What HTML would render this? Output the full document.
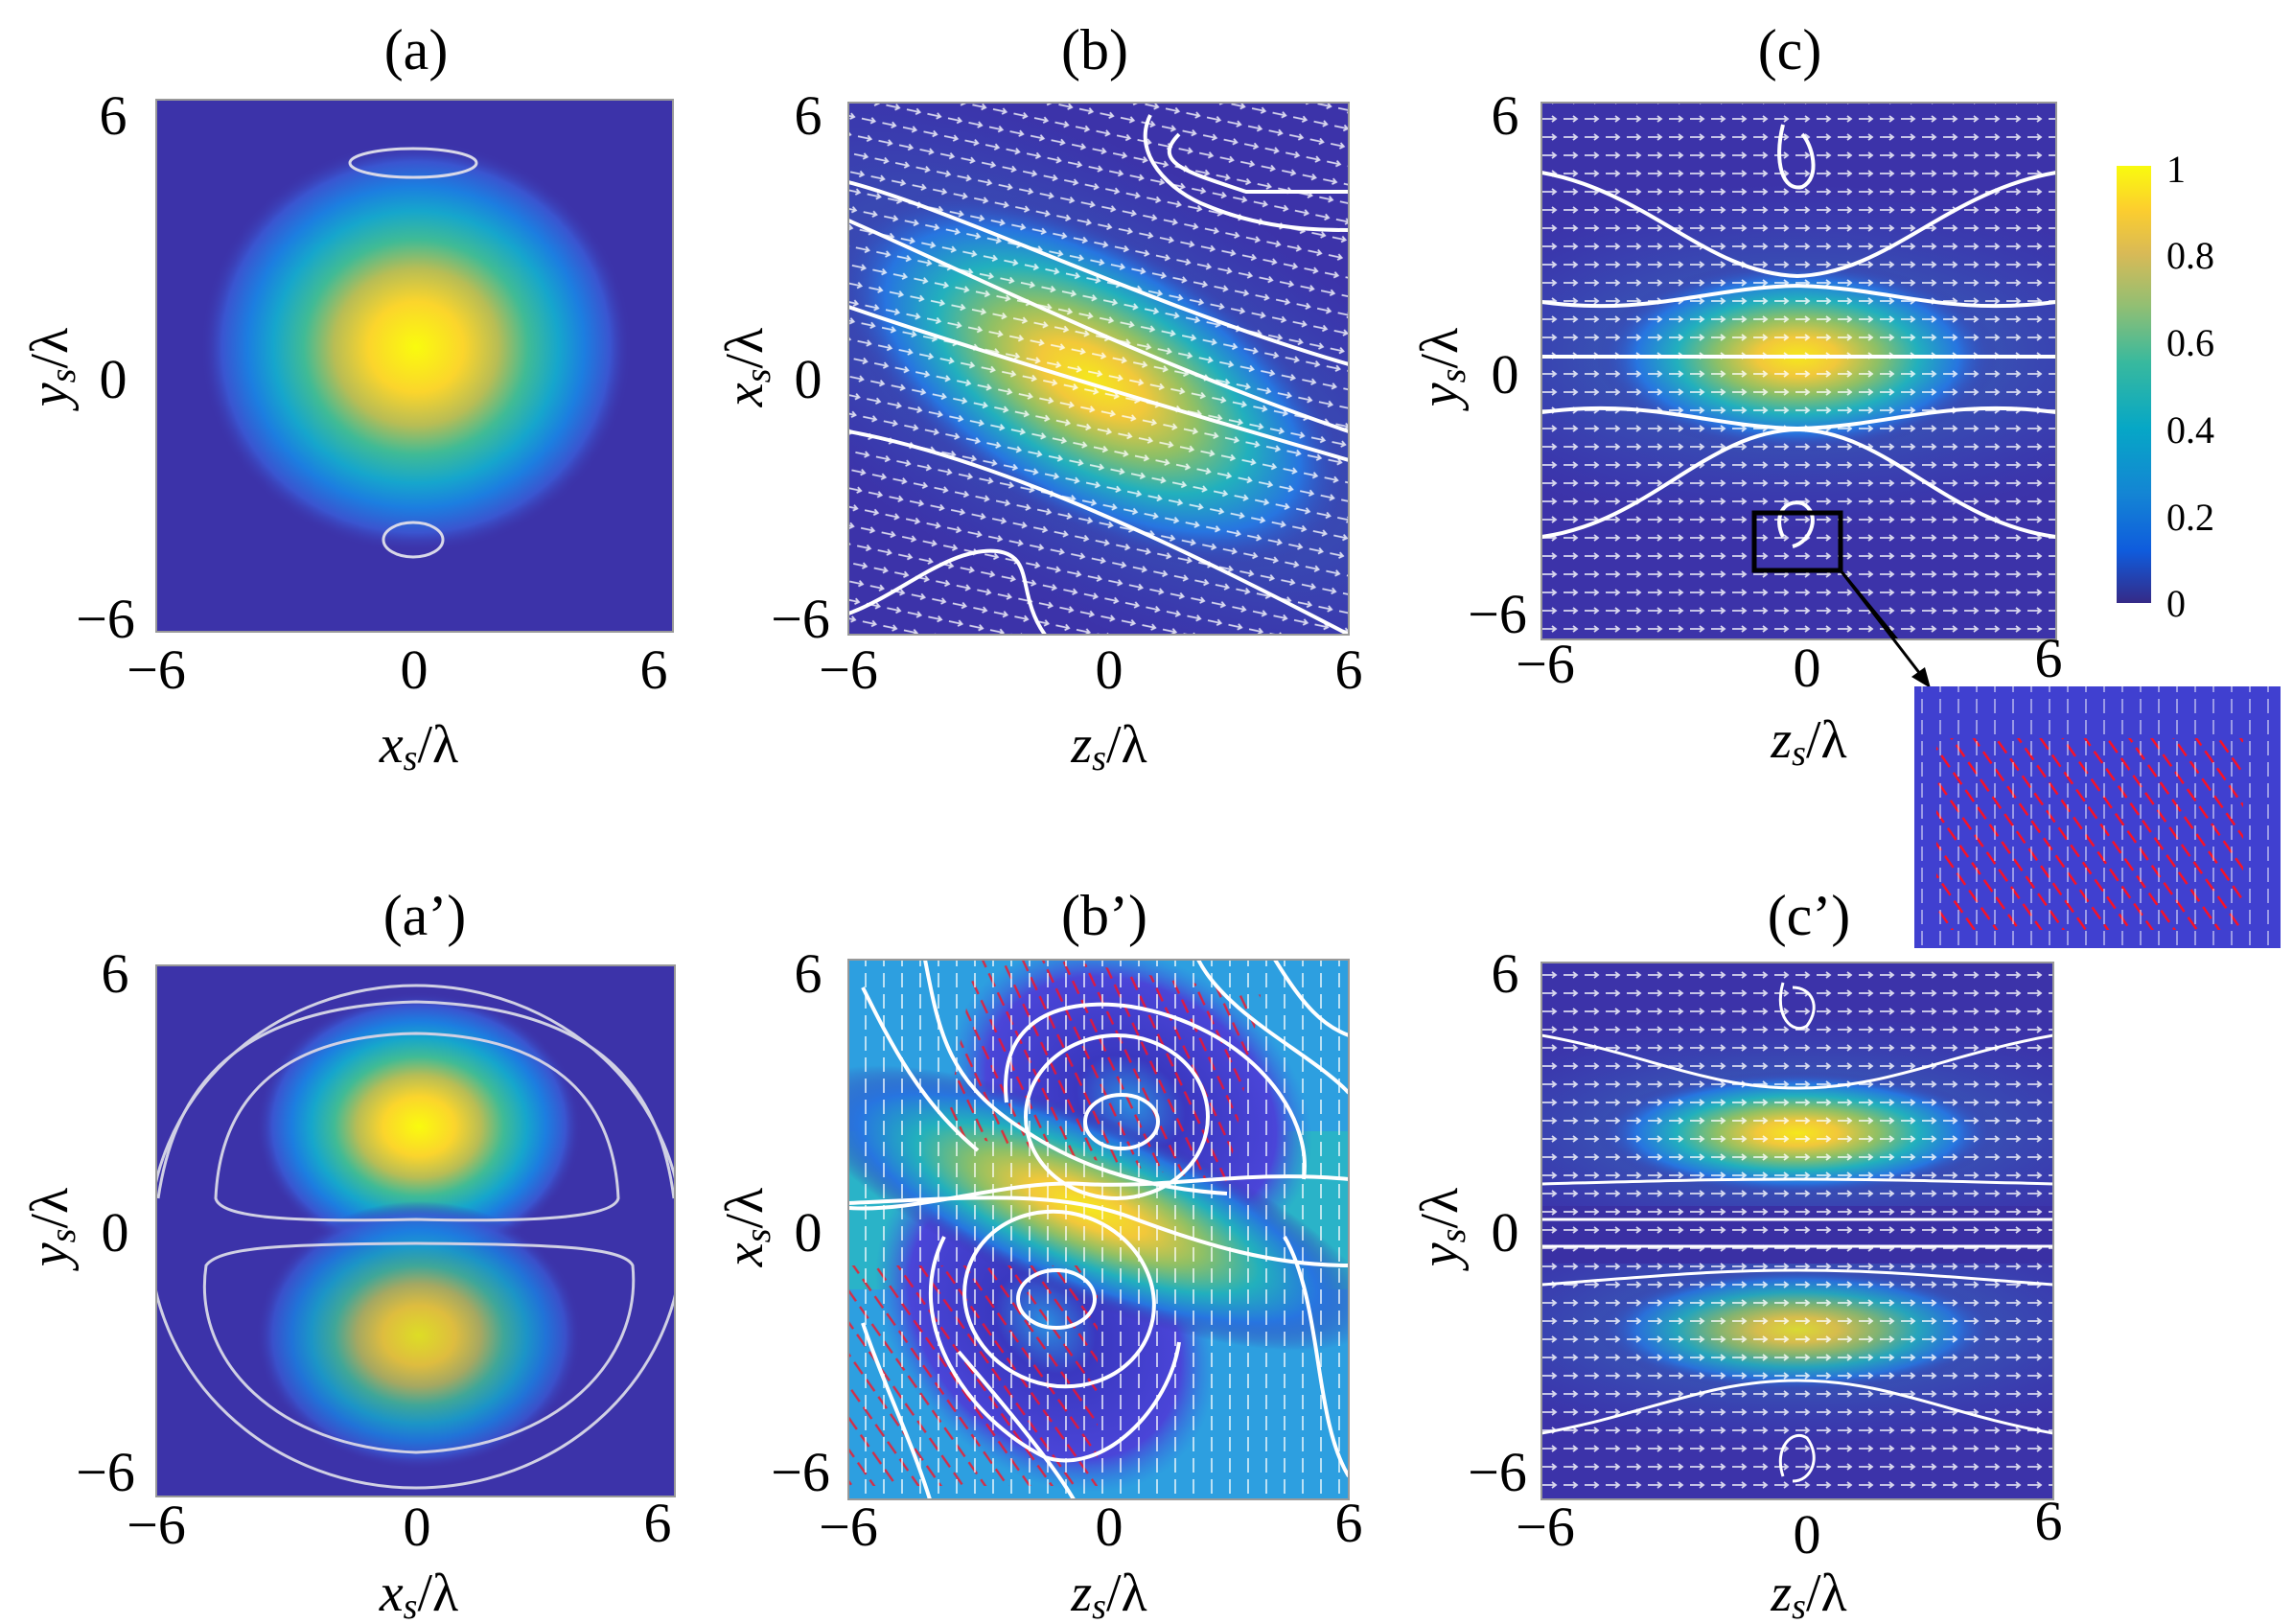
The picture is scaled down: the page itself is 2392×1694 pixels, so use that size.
<!DOCTYPE html>
<html><head><meta charset="utf-8"><style>
html,body{margin:0;padding:0;background:#fff;}
svg{display:block;}
text{font-family:"Liberation Serif",serif;fill:#000;}
</style></head><body>
<svg width="2392" height="1694" viewBox="0 0 2392 1694" xmlns="http://www.w3.org/2000/svg">
<defs>
<radialGradient id="par" cx="0.5" cy="0.5" r="0.5">
<stop offset="0" stop-color="#f9fb0e"/><stop offset="0.22" stop-color="#fbd52c"/>
<stop offset="0.38" stop-color="#b8bd55"/><stop offset="0.52" stop-color="#40bb95"/>
<stop offset="0.66" stop-color="#16a6cc"/><stop offset="0.78" stop-color="#1c7ee0"/>
<stop offset="0.9" stop-color="#3a55d0"/><stop offset="1" stop-color="#3c33a9" stop-opacity="0"/>
</radialGradient>
<radialGradient id="par2" cx="0.5" cy="0.5" r="0.5">
<stop offset="0" stop-color="#f5e81c"/><stop offset="0.2" stop-color="#f2c83a"/>
<stop offset="0.4" stop-color="#8fc065"/><stop offset="0.6" stop-color="#22b0bd"/>
<stop offset="0.8" stop-color="#2775e0"/><stop offset="1" stop-color="#3c33a9" stop-opacity="0"/>
</radialGradient>
<radialGradient id="bw" cx="0.5" cy="0.5" r="0.5">
<stop offset="0" stop-color="#37c0c0" stop-opacity="0.6"/><stop offset="1" stop-color="#2a60d8" stop-opacity="0"/>
</radialGradient>
<radialGradient id="vort" cx="0.5" cy="0.5" r="0.5">
<stop offset="0" stop-color="#2a8fe0"/><stop offset="0.3" stop-color="#3a38c0"/><stop offset="0.8" stop-color="#4a45d8"/><stop offset="1" stop-color="#3070e0" stop-opacity="0"/>
</radialGradient>
<linearGradient id="cbar" x1="0" y1="1" x2="0" y2="0">
<stop offset="0" stop-color="#352a87"/><stop offset="0.12" stop-color="#0f5cdd"/>
<stop offset="0.25" stop-color="#1485d4"/><stop offset="0.4" stop-color="#06a7c6"/>
<stop offset="0.55" stop-color="#38b99e"/><stop offset="0.68" stop-color="#92bf73"/>
<stop offset="0.8" stop-color="#d9ba56"/><stop offset="0.9" stop-color="#fcce2e"/>
<stop offset="1" stop-color="#f9fb0e"/>
</linearGradient>
<pattern id="arr" width="22" height="19" patternUnits="userSpaceOnUse">
<path d="M3 10 L17 10 M13 7 L17 10 L13 13" stroke="#fff" stroke-width="1.8" fill="none" opacity="0.8"/>
</pattern>
<pattern id="arrb" width="22" height="19" patternUnits="userSpaceOnUse" patternTransform="rotate(12)">
<path d="M3 10 L17 10 M13 7 L17 10 L13 13" stroke="#fff" stroke-width="1.8" fill="none" opacity="0.8"/>
</pattern>
<pattern id="arrv" width="19" height="22" patternUnits="userSpaceOnUse">
<path d="M10 3 L10 18" stroke="#fff" stroke-width="1.8" fill="none" opacity="0.75"/>
</pattern>
<pattern id="red" width="19" height="22" patternUnits="userSpaceOnUse" patternTransform="rotate(-35)">
<path d="M10 3 L10 18" stroke="#ff1020" stroke-width="2.4" fill="none"/>
</pattern>
<clipPath id="cb"><rect x="885" y="107" width="522" height="555"/></clipPath>
<clipPath id="cc"><rect x="1608" y="107" width="537" height="560"/></clipPath>
<clipPath id="ca"><rect x="163" y="104" width="539" height="555"/></clipPath>
<clipPath id="ca2"><rect x="163" y="1007" width="541" height="554"/></clipPath>
<clipPath id="cb2"><rect x="885" y="1001" width="522" height="563"/></clipPath>
<clipPath id="cc2"><rect x="1608" y="1004" width="534" height="560"/></clipPath>
<clipPath id="ci"><rect x="1997" y="716" width="382" height="273"/></clipPath>
</defs>

<!-- (a) -->
<g clip-path="url(#ca)">
<rect x="163" y="104" width="539" height="555" fill="#3c33a9"/>
<ellipse cx="434" cy="362" rx="225" ry="215" fill="url(#par)"/>
<ellipse cx="431" cy="170" rx="66" ry="15" fill="none" stroke="#d8d8e8" stroke-width="3"/>
<ellipse cx="431" cy="563" rx="31" ry="18" fill="none" stroke="#d8d8e8" stroke-width="3"/>
</g>
<rect x="163" y="104" width="539" height="555" fill="none" stroke="#999" stroke-width="2"/>

<!-- (b) -->
<g clip-path="url(#cb)">
<rect x="885" y="107" width="522" height="555" fill="#3c33a9"/>
<g transform="translate(1140,396) rotate(30)">
<ellipse cx="0" cy="0" rx="520" ry="230" fill="url(#bw)"/>
<ellipse cx="0" cy="0" rx="300" ry="150" fill="url(#par2)"/>
</g>
<rect x="885" y="107" width="522" height="555" fill="url(#arrb)"/>
<g stroke="#fff" stroke-width="4" fill="none">
<path d="M885 230 C1000 280 1200 380 1407 450"/>
<path d="M885 320 C1000 360 1200 420 1407 480"/>
<path d="M885 190 C1000 220 1200 320 1407 380"/>
<path d="M885 450 C1050 480 1250 580 1407 662"/>
<path d="M1200 120 C1180 160 1220 200 1260 215 C1320 240 1380 240 1407 240"/>
<path d="M1090 662 C1060 620 1080 580 1040 575 C990 570 940 620 885 640"/>
<path d="M1230 140 C1200 170 1240 180 1300 200 L1407 200"/>
</g>
</g>
<rect x="885" y="107" width="522" height="555" fill="none" stroke="#999" stroke-width="2"/>

<!-- (c) -->
<g clip-path="url(#cc)">
<rect x="1608" y="107" width="537" height="560" fill="#3c33a9"/>
<ellipse cx="1873" cy="372" rx="420" ry="180" fill="url(#bw)"/>
<ellipse cx="1875" cy="372" rx="210" ry="100" fill="url(#par2)"/>
<rect x="1608" y="107" width="537" height="560" fill="url(#arr)"/>
<g stroke="#fff" stroke-width="4" fill="none">
<path d="M1608 372 L2145 372"/>
<path d="M1608 315 C1720 330 1780 300 1875 298 C1970 300 2030 330 2145 315"/>
<path d="M1608 430 C1720 415 1780 445 1875 447 C1970 445 2030 415 2145 430"/>
<path d="M1608 180 C1720 200 1780 285 1875 288 C1970 285 2030 200 2145 180"/>
<path d="M1608 560 C1720 545 1780 450 1875 448 C1970 450 2030 545 2145 560"/>
<path d="M1860 130 C1850 170 1860 200 1880 195 C1900 185 1890 150 1880 140"/>
<path d="M1860 560 C1850 540 1860 520 1880 525 C1900 535 1890 565 1870 570"/>
</g>
<rect x="1830" y="535" width="90" height="60" fill="none" stroke="#000" stroke-width="5"/>
<path d="M1920 595 L2010 705" stroke="#000" stroke-width="3"/>
<path d="M2000 695 L2015 712 L1995 705 Z" fill="#000"/>
</g>
<rect x="1608" y="107" width="537" height="560" fill="none" stroke="#999" stroke-width="2"/>
<path d="M1920 595 L2010 712" stroke="#000" stroke-width="3"/>
<path d="M1994 706 L2014 718 L2008 696 Z" fill="#000"/>

<!-- inset -->
<g clip-path="url(#ci)">
<rect x="1997" y="716" width="382" height="273" fill="#4040d0"/>
<rect x="2020" y="770" width="320" height="200" fill="url(#red)"/>
<rect x="1997" y="716" width="382" height="273" fill="url(#arrv)" opacity="0.7"/>
</g>

<!-- colorbar -->
<rect x="2208" y="173" width="36" height="456" fill="url(#cbar)"/>
<g font-size="40">
<text x="2260" y="190">1</text>
<text x="2260" y="280">0.8</text>
<text x="2260" y="371">0.6</text>
<text x="2260" y="462">0.4</text>
<text x="2260" y="553">0.2</text>
<text x="2260" y="643">0</text>
</g>

<!-- (a') -->
<g clip-path="url(#ca2)">
<rect x="163" y="1007" width="541" height="554" fill="#3c33a9"/>
<ellipse cx="437" cy="1175" rx="170" ry="140" fill="url(#par)"/>
<ellipse cx="437" cy="1393" rx="170" ry="140" fill="url(#par)" opacity="0.85"/>
<g stroke="#d0d0e4" stroke-width="3" fill="none">
<ellipse cx="434" cy="1290" rx="278" ry="262"/>
<path d="M165 1250 C180 1150 230 1050 434 1045 C640 1050 690 1150 703 1250"/>
<path d="M225 1250 C230 1140 300 1080 434 1078 C570 1080 640 1140 645 1250 C640 1270 560 1275 434 1272 C300 1275 230 1270 225 1250Z"/>
<path d="M215 1320 C230 1300 300 1298 434 1297 C570 1298 650 1300 660 1320 C670 1420 580 1510 434 1515 C290 1510 200 1420 215 1320Z"/>
</g>
</g>
<rect x="163" y="1007" width="541" height="554" fill="none" stroke="#999" stroke-width="2"/>

<!-- (b') -->
<g clip-path="url(#cb2)">
<rect x="885" y="1001" width="522" height="563" fill="#2d9fe0"/>
<rect x="885" y="1180" width="522" height="165" fill="#2ab3c8"/>
<ellipse cx="1180" cy="1150" rx="200" ry="150" fill="url(#vort)" transform="rotate(30 1180 1150)"/>
<ellipse cx="1090" cy="1380" rx="200" ry="150" fill="url(#vort)" transform="rotate(45 1090 1380)"/>
<ellipse cx="1135" cy="1260" rx="320" ry="95" fill="url(#par2)" transform="rotate(22 1135 1260)"/>
<rect x="1000" y="1010" width="300" height="200" fill="url(#red)" opacity="0.8" transform="rotate(10 1150 1110)"/>
<rect x="885" y="1320" width="260" height="230" fill="url(#red)" opacity="0.8"/>
<rect x="885" y="1001" width="522" height="563" fill="url(#arrv)"/>
<g stroke="#fff" stroke-width="4" fill="none">
<ellipse cx="1170" cy="1170" rx="38" ry="28"/>
<ellipse cx="1165" cy="1165" rx="95" ry="85"/>
<path d="M1050 1150 C1040 1060 1110 1040 1180 1050 C1300 1070 1370 1160 1360 1230"/>
<ellipse cx="1102" cy="1355" rx="40" ry="30"/>
<ellipse cx="1105" cy="1355" rx="100" ry="90" transform="rotate(20 1105 1355)"/>
<path d="M985 1290 C940 1380 1010 1480 1090 1520 C1150 1540 1220 1470 1230 1400"/>
<path d="M885 1255 C1000 1250 1100 1240 1180 1270 C1260 1300 1330 1320 1407 1320"/>
<path d="M885 1260 C960 1265 1050 1230 1130 1235 C1220 1240 1300 1220 1407 1230"/>
<path d="M965 1001 C980 1080 990 1130 1070 1180 C1130 1220 1200 1240 1280 1245"/>
<path d="M1250 1001 C1280 1060 1370 1100 1407 1140"/>
<path d="M1330 1001 C1360 1050 1380 1070 1407 1080"/>
<path d="M1340 1290 C1380 1360 1370 1480 1407 1540"/>
<path d="M900 1380 C920 1440 950 1500 970 1564"/>
<path d="M1000 1410 C1060 1480 1100 1530 1120 1564"/>
<path d="M900 1030 C930 1090 960 1150 1020 1200"/>
</g>
</g>
<rect x="885" y="1001" width="522" height="563" fill="none" stroke="#999" stroke-width="2"/>

<!-- (c') -->
<g clip-path="url(#cc2)">
<rect x="1608" y="1004" width="534" height="560" fill="#3c33a9"/>
<ellipse cx="1873" cy="1180" rx="400" ry="125" fill="url(#bw)"/>
<ellipse cx="1873" cy="1387" rx="400" ry="125" fill="url(#bw)"/>
<ellipse cx="1875" cy="1182" rx="210" ry="65" fill="url(#par2)"/>
<ellipse cx="1875" cy="1387" rx="210" ry="65" fill="url(#par2)" opacity="0.85"/>
<rect x="1608" y="1258" width="534" height="60" fill="#3a30a4"/>
<rect x="1608" y="1004" width="534" height="560" fill="url(#arr)"/>
<g stroke="#fff" stroke-width="3" fill="none">
<path d="M1608 1080 C1720 1100 1780 1135 1875 1135 C1970 1135 2030 1100 2142 1080"/>
<path d="M1608 1235 C1720 1232 1780 1230 1875 1230 C1970 1230 2030 1232 2142 1235"/>
<path d="M1608 1340 C1720 1332 1780 1325 1875 1325 C1970 1325 2030 1332 2142 1340"/>
<path d="M1608 1495 C1720 1475 1780 1440 1875 1440 C1970 1440 2030 1475 2142 1495"/>
<path d="M1608 1272 L2142 1272 M1608 1300 L2142 1300"/>
<path d="M1860 1025 C1850 1060 1870 1080 1885 1070 C1900 1050 1890 1030 1870 1030"/>
<path d="M1860 1540 C1850 1510 1870 1490 1885 1500 C1900 1520 1890 1545 1870 1545"/>
</g>
</g>
<rect x="1608" y="1004" width="534" height="560" fill="none" stroke="#999" stroke-width="2"/>

<!-- titles -->
<g font-size="60" text-anchor="middle">
<text x="434" y="72">(a)</text>
<text x="1142" y="72">(b)</text>
<text x="1867" y="72">(c)</text>
<text x="443" y="975">(a’)</text>
<text x="1152" y="975">(b’)</text>
<text x="1887" y="975">(c’)</text>
</g>

<!-- tick labels -->
<g font-size="58" text-anchor="middle">
<text x="118" y="140">6</text><text x="118" y="415">0</text><text x="110" y="665">−6</text>
<text x="163" y="718">−6</text><text x="432" y="718">0</text><text x="682" y="718">6</text>
<text x="843" y="140">6</text><text x="843" y="415">0</text><text x="835" y="665">−6</text>
<text x="885" y="718">−6</text><text x="1157" y="718">0</text><text x="1407" y="718">6</text>
<text x="1570" y="140">6</text><text x="1570" y="410">0</text><text x="1562" y="660">−6</text>
<text x="1612" y="712">−6</text><text x="1885" y="716">0</text><text x="2137" y="706">6</text>

<text x="120" y="1035">6</text><text x="120" y="1305">0</text><text x="110" y="1555">−6</text>
<text x="163" y="1610">−6</text><text x="435" y="1612">0</text><text x="686" y="1608">6</text>
<text x="843" y="1035">6</text><text x="843" y="1305">0</text><text x="835" y="1555">−6</text>
<text x="885" y="1612">−6</text><text x="1157" y="1612">0</text><text x="1407" y="1608">6</text>
<text x="1570" y="1035">6</text><text x="1570" y="1305">0</text><text x="1562" y="1555">−6</text>
<text x="1612" y="1612">−6</text><text x="1885" y="1620">0</text><text x="2137" y="1606">6</text>
</g>

<!-- axis labels -->
<g font-size="56" font-style="italic" text-anchor="middle">
<text x="437" y="795">x<tspan font-size="38" dy="8">s</tspan><tspan dy="-8" font-style="normal">/λ</tspan></text>
<text x="1157" y="795">z<tspan font-size="38" dy="8">s</tspan><tspan dy="-8" font-style="normal">/λ</tspan></text>
<text x="1887" y="790">z<tspan font-size="38" dy="8">s</tspan><tspan dy="-8" font-style="normal">/λ</tspan></text>
<text x="437" y="1680">x<tspan font-size="38" dy="8">s</tspan><tspan dy="-8" font-style="normal">/λ</tspan></text>
<text x="1157" y="1680">z<tspan font-size="38" dy="8">s</tspan><tspan dy="-8" font-style="normal">/λ</tspan></text>
<text x="1887" y="1680">z<tspan font-size="38" dy="8">s</tspan><tspan dy="-8" font-style="normal">/λ</tspan></text>
<text transform="translate(70,383) rotate(-90)">y<tspan font-size="38" dy="8">s</tspan><tspan dy="-8" font-style="normal">/λ</tspan></text>
<text transform="translate(795,383) rotate(-90)">x<tspan font-size="38" dy="8">s</tspan><tspan dy="-8" font-style="normal">/λ</tspan></text>
<text transform="translate(1520,383) rotate(-90)">y<tspan font-size="38" dy="8">s</tspan><tspan dy="-8" font-style="normal">/λ</tspan></text>
<text transform="translate(70,1280) rotate(-90)">y<tspan font-size="38" dy="8">s</tspan><tspan dy="-8" font-style="normal">/λ</tspan></text>
<text transform="translate(795,1280) rotate(-90)">x<tspan font-size="38" dy="8">s</tspan><tspan dy="-8" font-style="normal">/λ</tspan></text>
<text transform="translate(1520,1280) rotate(-90)">y<tspan font-size="38" dy="8">s</tspan><tspan dy="-8" font-style="normal">/λ</tspan></text>
</g>
</svg>
</body></html>
